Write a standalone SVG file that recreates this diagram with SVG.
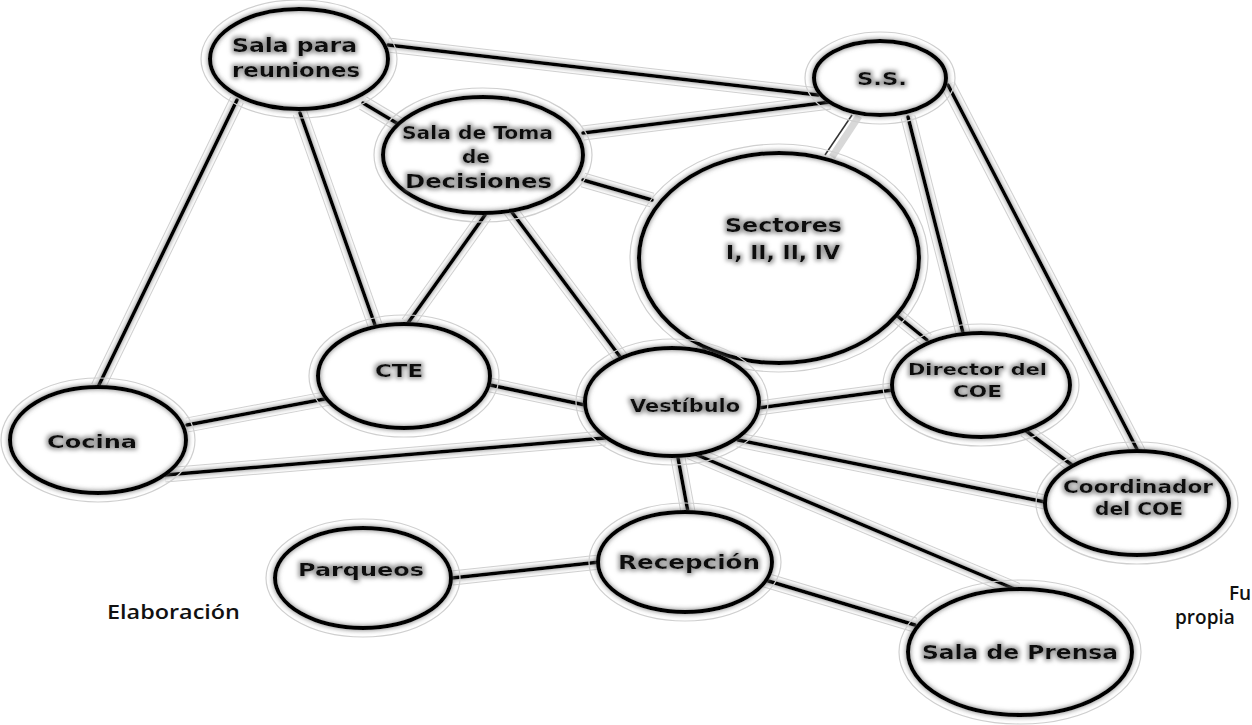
<svg xmlns="http://www.w3.org/2000/svg" width="1252" height="725" viewBox="0 0 1252 725">
<defs>
<filter id="glow" x="-20%" y="-50%" width="140%" height="200%">
<feMorphology in="SourceAlpha" operator="dilate" radius="1.5" result="d"/>
<feGaussianBlur in="d" stdDeviation="2" result="b"/>
<feFlood flood-color="#a0a0a0"/>
<feComposite in2="b" operator="in" result="g"/>
<feMerge><feMergeNode in="g"/><feMergeNode in="SourceGraphic"/></feMerge>
</filter>
<filter id="soft" x="-10%" y="-15%" width="120%" height="130%">
<feGaussianBlur in="SourceAlpha" stdDeviation="2.8" result="b"/>
<feFlood flood-color="#6a6a6a"/>
<feComposite in2="b" operator="in" result="g"/>
<feMerge><feMergeNode in="g"/><feMergeNode in="SourceGraphic"/></feMerge>
</filter>
</defs>
<style>
.halo{fill:none;stroke:#d2d2d2;stroke-width:15}
.band{fill:none;stroke:#ffffff;stroke-width:13}
.ln{fill:none;stroke:#000;stroke-width:3.5;stroke-linecap:round}
.thin{fill:none;stroke:#333;stroke-width:1.5}
.eo{fill:none;stroke:#cfcfcf;stroke-width:1.2}
.ef{fill:#fff;stroke:none}
.e{fill:none;stroke:#000;stroke-width:4}
.t{font-family:"DejaVu Sans","Open Sans",sans-serif;font-weight:bold;fill:#111;text-anchor:middle;filter:url(#glow)}
.cap{font-family:"Open Sans","Liberation Sans",sans-serif;font-weight:600;font-size:19px;fill:#111}
</style>
<rect width="1252" height="725" fill="#fff"/>
<g id="connectors">
<path class="halo" d="M388,45L818,95 M363,103L405,128 M237,100L98,387 M300,113L375,325 M583,133L830,102 M583,180L652,200 M485,215L408,323 M508,207L630,370 M908,117L963,333 M948,85L1140,455 M890,310L927,340 M715,318L703,352 M490,385L585,405 M330,398L187,425 M165,475L605,438 M758,408L893,390 M1025,430L1072,465 M738,440L1045,502 M678,458L688,512 M690,452L1017,590 M452,578L600,562 M765,580L915,625"/>
<path class="band" d="M388,45L818,95 M363,103L405,128 M237,100L98,387 M300,113L375,325 M583,133L830,102 M583,180L652,200 M485,215L408,323 M508,207L630,370 M908,117L963,333 M948,85L1140,455 M890,310L927,340 M715,318L703,352 M490,385L585,405 M330,398L187,425 M165,475L605,438 M758,408L893,390 M1025,430L1072,465 M738,440L1045,502 M678,458L688,512 M690,452L1017,590 M452,578L600,562 M765,580L915,625"/>
<line x1="859" y1="116" x2="832" y2="157" stroke="#d8d8d8" stroke-width="7"/>
<g filter="url(#soft)">
<line class="ln" x1="388" y1="45" x2="818" y2="95"/>
<line class="ln" x1="363" y1="103" x2="405" y2="128"/>
<line class="ln" x1="237" y1="100" x2="98" y2="387"/>
<line class="ln" x1="300" y1="113" x2="375" y2="325"/>
<line class="ln" x1="583" y1="133" x2="830" y2="102"/>
<line class="ln" x1="583" y1="180" x2="652" y2="200"/>
<line class="ln" x1="485" y1="215" x2="408" y2="323"/>
<line class="ln" x1="508" y1="207" x2="630" y2="370"/>
<line class="ln" x1="908" y1="117" x2="963" y2="333"/>
<line class="ln" x1="948" y1="85" x2="1140" y2="455"/>
<line class="ln" x1="890" y1="310" x2="927" y2="340"/>
<line class="ln" x1="715" y1="318" x2="703" y2="352"/>
<line class="ln" x1="490" y1="385" x2="585" y2="405"/>
<line class="ln" x1="330" y1="398" x2="187" y2="425"/>
<line class="ln" x1="165" y1="475" x2="605" y2="438"/>
<line class="ln" x1="758" y1="408" x2="893" y2="390"/>
<line class="ln" x1="1025" y1="430" x2="1072" y2="465"/>
<line class="ln" x1="738" y1="440" x2="1045" y2="502"/>
<line class="ln" x1="678" y1="458" x2="688" y2="512"/>
<line class="ln" x1="690" y1="452" x2="1017" y2="590"/>
<line class="ln" x1="452" y1="578" x2="600" y2="562"/>
<line class="ln" x1="765" y1="580" x2="915" y2="625"/>
</g>
<line class="thin" x1="852" y1="115" x2="825" y2="155"/>
</g>
<g id="n-sala-reuniones">
<ellipse class="eo" cx="299" cy="59" rx="98" ry="59"/><ellipse class="ef" cx="299" cy="59" rx="89" ry="50"/><ellipse class="e" filter="url(#soft)" cx="299" cy="59" rx="89" ry="50"/>
<text class="t" x="294.5" y="52" font-size="19" textLength="125" lengthAdjust="spacingAndGlyphs">Sala para</text>
<text class="t" x="296" y="77" font-size="19" textLength="128" lengthAdjust="spacingAndGlyphs">reuniones</text>
</g>
<g id="n-toma-decisiones">
<ellipse class="eo" cx="483" cy="155" rx="109" ry="67"/><ellipse class="ef" cx="483" cy="155" rx="100" ry="58"/><ellipse class="e" filter="url(#soft)" cx="483" cy="155" rx="100" ry="58"/>
<text class="t" x="477.5" y="139" font-size="17" textLength="151" lengthAdjust="spacingAndGlyphs">Sala de Toma</text>
<text class="t" x="476" y="163" font-size="17" textLength="28" lengthAdjust="spacingAndGlyphs">de</text>
<text class="t" x="478.5" y="188" font-size="20" textLength="147" lengthAdjust="spacingAndGlyphs">Decisiones</text>
</g>
<g id="n-ss">
<ellipse class="eo" cx="880" cy="78" rx="75" ry="46"/><ellipse class="ef" cx="880" cy="78" rx="66" ry="37"/><ellipse class="e" filter="url(#soft)" cx="880" cy="78" rx="66" ry="37"/>
<text class="t" x="882" y="85" font-size="18" textLength="50" lengthAdjust="spacingAndGlyphs">S.S.</text>
</g>
<g id="n-sectores">
<ellipse class="eo" cx="779" cy="258" rx="149" ry="114"/><ellipse class="ef" cx="779" cy="258" rx="140" ry="105"/><ellipse class="e" filter="url(#soft)" cx="779" cy="258" rx="140" ry="105"/>
<text class="t" x="783.5" y="232" font-size="20" textLength="117" lengthAdjust="spacingAndGlyphs">Sectores</text>
<text class="t" x="783" y="259" font-size="20" textLength="114" lengthAdjust="spacingAndGlyphs">I, II, II, IV</text>
</g>
<g id="n-cte">
<ellipse class="eo" cx="404" cy="376" rx="95" ry="61"/><ellipse class="ef" cx="404" cy="376" rx="86" ry="52"/><ellipse class="e" filter="url(#soft)" cx="404" cy="376" rx="86" ry="52"/>
<text class="t" x="399" y="377" font-size="17" textLength="48" lengthAdjust="spacingAndGlyphs">CTE</text>
</g>
<g id="n-cocina">
<ellipse class="eo" cx="98" cy="440" rx="97" ry="62"/><ellipse class="ef" cx="98" cy="440" rx="88" ry="53"/><ellipse class="e" filter="url(#soft)" cx="98" cy="440" rx="88" ry="53"/>
<text class="t" x="92" y="448" font-size="18" textLength="90" lengthAdjust="spacingAndGlyphs">Cocina</text>
</g>
<g id="n-vestibulo">
<ellipse class="eo" cx="672" cy="402" rx="96" ry="63"/><ellipse class="ef" cx="672" cy="402" rx="87" ry="54"/><ellipse class="e" filter="url(#soft)" cx="672" cy="402" rx="87" ry="54"/>
<text class="t" x="685" y="412" font-size="18" textLength="110" lengthAdjust="spacingAndGlyphs">Vestíbulo</text>
</g>
<g id="n-director">
<ellipse class="eo" cx="981" cy="385" rx="98" ry="61"/><ellipse class="ef" cx="981" cy="385" rx="89" ry="52"/><ellipse class="e" filter="url(#soft)" cx="981" cy="385" rx="89" ry="52"/>
<text class="t" x="977.5" y="375" font-size="16.5" textLength="139" lengthAdjust="spacingAndGlyphs">Director del</text>
<text class="t" x="977.5" y="397" font-size="16.5" textLength="49" lengthAdjust="spacingAndGlyphs">COE</text>
</g>
<g id="n-coordinador">
<ellipse class="eo" cx="1137" cy="503" rx="101" ry="61"/><ellipse class="ef" cx="1137" cy="503" rx="92" ry="52"/><ellipse class="e" filter="url(#soft)" cx="1137" cy="503" rx="92" ry="52"/>
<text class="t" x="1138" y="493" font-size="17" textLength="150" lengthAdjust="spacingAndGlyphs">Coordinador</text>
<text class="t" x="1139" y="515" font-size="17" textLength="88" lengthAdjust="spacingAndGlyphs">del COE</text>
</g>
<g id="n-recepcion">
<ellipse class="eo" cx="685" cy="562" rx="96" ry="59"/><ellipse class="ef" cx="685" cy="562" rx="87" ry="50"/><ellipse class="e" filter="url(#soft)" cx="685" cy="562" rx="87" ry="50"/>
<text class="t" x="689" y="569" font-size="20" textLength="142" lengthAdjust="spacingAndGlyphs">Recepción</text>
</g>
<g id="n-parqueos">
<ellipse class="eo" cx="363" cy="578" rx="97" ry="59"/><ellipse class="ef" cx="363" cy="578" rx="88" ry="50"/><ellipse class="e" filter="url(#soft)" cx="363" cy="578" rx="88" ry="50"/>
<text class="t" x="361" y="576" font-size="17" textLength="126" lengthAdjust="spacingAndGlyphs">Parqueos</text>
</g>
<g id="n-prensa">
<ellipse class="eo" cx="1020" cy="652" rx="121" ry="72"/><ellipse class="ef" cx="1020" cy="652" rx="112" ry="63"/><ellipse class="e" filter="url(#soft)" cx="1020" cy="652" rx="112" ry="63"/>
<text class="t" x="1020" y="659" font-size="19.5" textLength="196" lengthAdjust="spacingAndGlyphs">Sala de Prensa</text>
</g>
<g id="caption">
<text class="cap" x="107" y="619" textLength="133" lengthAdjust="spacingAndGlyphs">Elaboración</text>
<text class="cap" x="1229" y="600">Fu</text>
<text class="cap" x="1175" y="624">propia</text>
</g>
</svg>
